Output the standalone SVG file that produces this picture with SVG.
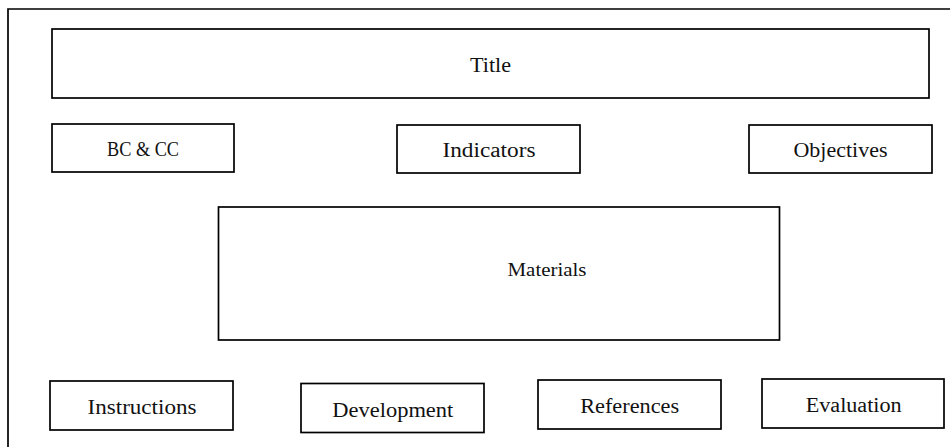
<svg xmlns="http://www.w3.org/2000/svg" width="950" height="447" viewBox="0 0 950 447">
<style>
.box{fill:#fff;stroke:#000;stroke-width:1.7}
.frame{fill:none;stroke:#000;stroke-width:1.7}
.lbl{font-family:"Liberation Serif","DejaVu Serif",serif;font-size:20.5px;fill:#111;text-anchor:middle}
.tnr{font-family:"Liberation Serif","Times New Roman",serif;font-size:19px;fill:#111;text-anchor:middle}
</style>
<rect width="950" height="447" fill="#fff"/>
<path class="frame" d="M8,460 V9 H960"/>
<g id="connectors"></g>
<g id="title"><rect class="box" x="52" y="29" width="877" height="69"/><text class="lbl" x="490.5" y="72" textLength="41" lengthAdjust="spacingAndGlyphs">Title</text></g>
<g id="bccc"><rect class="box" x="52" y="124" width="182" height="48"/><text class="lbl" x="143" y="156" textLength="72" lengthAdjust="spacingAndGlyphs">BC &amp; CC</text></g>
<g id="indicators"><rect class="box" x="397" y="125" width="183" height="48"/><text class="lbl" x="489" y="156.5" textLength="93" lengthAdjust="spacingAndGlyphs">Indicators</text></g>
<g id="objectives"><rect class="box" x="749" y="125" width="183" height="48"/><text class="lbl" x="840.5" y="156.5" textLength="94" lengthAdjust="spacingAndGlyphs">Objectives</text></g>
<g id="materials"><rect class="box" x="218.5" y="207" width="561" height="133"/><text class="tnr" x="547" y="275.5" textLength="79" lengthAdjust="spacingAndGlyphs">Materials</text></g>
<g id="instructions"><rect class="box" x="50" y="381" width="183" height="49"/><text class="lbl" x="142" y="414" textLength="109" lengthAdjust="spacingAndGlyphs">Instructions</text></g>
<g id="development"><rect class="box" x="301" y="383.5" width="183" height="49"/><text class="lbl" x="392.8" y="417" textLength="121" lengthAdjust="spacingAndGlyphs">Development</text></g>
<g id="references"><rect class="box" x="538" y="380" width="183" height="49"/><text class="lbl" x="629.7" y="413.3" textLength="99" lengthAdjust="spacingAndGlyphs">References</text></g>
<g id="evaluation"><rect class="box" x="762" y="379" width="182" height="49"/><text class="lbl" x="853.7" y="411.7" textLength="96" lengthAdjust="spacingAndGlyphs">Evaluation</text></g>
</svg>
